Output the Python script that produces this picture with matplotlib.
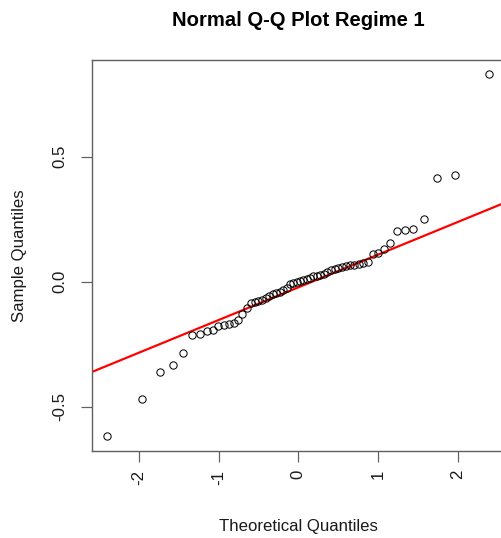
import matplotlib
matplotlib.use("Agg")
import matplotlib.pyplot as plt
import numpy as np
from statistics import NormalDist

# Sorted sample values of the regime-1 residuals
sample = [
    -0.618, -0.468, -0.363, -0.332, -0.284, -0.215, -0.210, -0.198, -0.192, -0.178,
    -0.172, -0.171, -0.166, -0.155, -0.128, -0.105, -0.086, -0.081, -0.077, -0.072,
    -0.064, -0.056, -0.051, -0.047, -0.042, -0.035, -0.024, -0.011, -0.006, 0.000,
    0.004, 0.008, 0.011, 0.016, 0.021, 0.024, 0.028, 0.031, 0.038, 0.047,
    0.052, 0.056, 0.060, 0.064, 0.065, 0.068, 0.072, 0.076, 0.080, 0.109,
    0.116, 0.129, 0.153, 0.202, 0.206, 0.212, 0.252, 0.413, 0.426, 0.829,
]

x_ticks = [-2, -1, 0, 1, 2]
x_tick_labels = ["-2", "-1", "0", "1", "2"]
y_ticks = [-0.5, 0.0, 0.5]
y_tick_labels = ["-0.5", "0.0", "0.5"]

title = "Normal Q-Q Plot Regime 1"
x_label = "Theoretical Quantiles"
y_label = "Sample Quantiles"

plt.rcParams["font.family"] = ["Liberation Sans", "DejaVu Sans"]
plt.rcParams["axes.unicode_minus"] = False

W, H, DPI = 501, 538, 72
fig = plt.figure(figsize=(W / DPI, H / DPI), dpi=DPI)

# Theoretical normal quantiles at plotting positions (i - 0.5) / n
y = np.sort(np.asarray(sample))
n = len(y)
nd = NormalDist()
probs = (np.arange(1, n + 1) - 0.5) / n
theo = np.array([nd.inv_cdf(p) for p in probs])

# Reference line through the first and third quartiles
q1, q3 = np.quantile(y, [0.25, 0.75])
z1, z3 = nd.inv_cdf(0.25), nd.inv_cdf(0.75)
slope = (q3 - q1) / (z3 - z1)
intercept = q1 - slope * z1

# Axis limits padded by 4% of the data range
def padded(lo, hi, frac=0.04):
    d = (hi - lo) * frac
    return lo - d, hi + d

xlim = padded(theo.min(), theo.max())
ylim = padded(y.min(), y.max())

px_per_x = 79.8
px_per_y = 250.0
left_px, bottom_px = 92.0, 450.7
ax_w = (xlim[1] - xlim[0]) * px_per_x
ax_h = (ylim[1] - ylim[0]) * px_per_y
ax = fig.add_axes([left_px / W, 1 - bottom_px / H, ax_w / W, ax_h / H])

ax.plot(theo, y, "o", mfc="none", mec="black", ms=7.3, mew=1.0, zorder=3)
ax.axline((0, intercept), slope=slope, color="#ff0000", lw=2.2, zorder=2)

ax.set_xlim(*xlim)
ax.set_ylim(*ylim)

frame_col = "#606060"
for sp in ax.spines.values():
    sp.set_color(frame_col)
    sp.set_linewidth(1.4)

ax.set_xticks(x_ticks)
ax.set_xticklabels(x_tick_labels)
ax.set_yticks(y_ticks)
ax.set_yticklabels(y_tick_labels)

text_col = "#1a1a1a"
ax.tick_params(axis="both", length=11, width=1.2, color=frame_col,
               labelsize=16.8, labelcolor=text_col)
ax.tick_params(axis="x", pad=8.3)
ax.tick_params(axis="y", pad=13.3)
for lab in ax.get_xticklabels():
    lab.set_rotation(90)
    lab.set_va("top")
    lab.set_ha("center")
for lab in ax.get_yticklabels():
    lab.set_rotation(90)
    lab.set_va("center")
    lab.set_ha("right")

cx = (left_px + ax_w / 2) / W
fig.text(cx, 1 - 20 / H, title, ha="center", va="center",
         fontsize=20.2, fontweight="bold", color="black")
fig.text(cx, 1 - 526 / H, x_label, ha="center", va="center",
         fontsize=16.8, color=text_col)
fig.text(19.5 / W, 1 - (bottom_px - ax_h / 2) / H, y_label, ha="center",
         va="center", rotation=90, fontsize=16.8, color=text_col)

fig.savefig("out.png", dpi=DPI)
